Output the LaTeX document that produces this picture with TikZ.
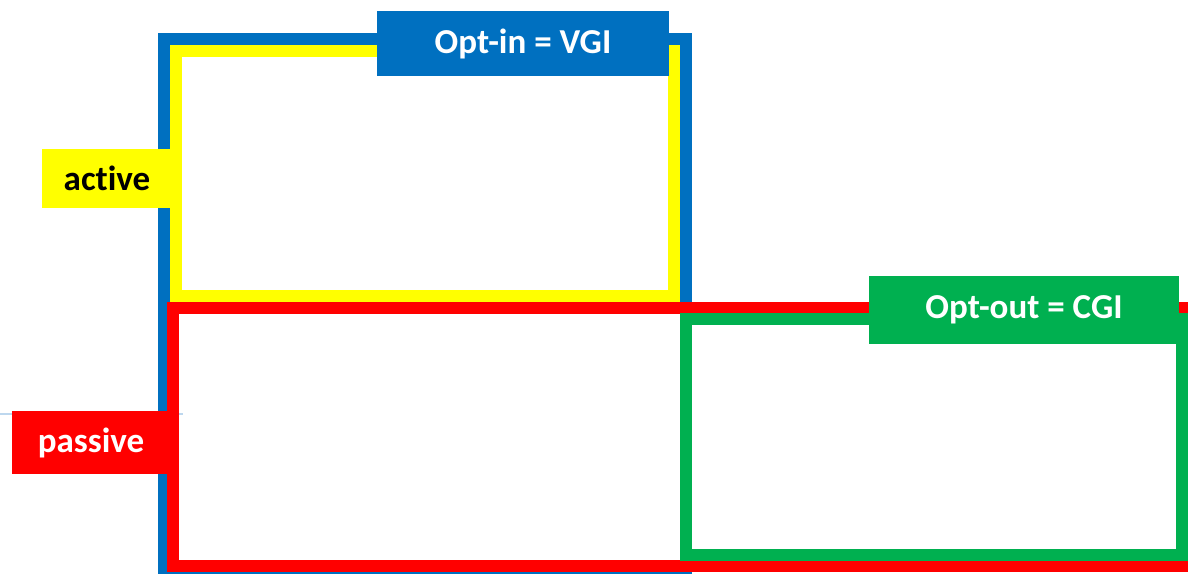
\documentclass[tikz,border=0pt]{standalone}
\usepackage{fontspec}
\setmainfont{Carlito}[Ligatures={NoCommon}]
\definecolor{optinblue}{HTML}{0070C0}
\definecolor{activeyellow}{HTML}{FFFF00}
\definecolor{passivered}{HTML}{FF0000}
\definecolor{optoutgreen}{HTML}{00B050}
\definecolor{guideblue}{HTML}{BDD7EE}

\begin{document}
\begin{tikzpicture}[x=1pt, y=-1pt, line width=12pt,
    every node/.style={font=\fontsize{35}{40}\selectfont\bfseries, inner sep=0pt}]
    \useasboundingbox (0,0) rectangle (1188,573);
    \clip (0,0) rectangle (1188,573);
    % faint guide line at the left
    \draw[line width=1.5pt, guideblue] (0,414) -- (183,414);
    % Opt-in frame
    \draw[optinblue] (164,39) rectangle (686,569);
    % active frame inside Opt-in
    \draw[activeyellow] (176,51) rectangle (674,296);
    % passive frame, runs off the right edge
    \draw[passivered] (173,308) rectangle (1200,566);
    % Opt-out frame
    \draw[optoutgreen] (686,319) rectangle (1182,555);
    % labels on the frames
    \node[fill=optinblue, text=white, minimum width=292pt, minimum height=65pt] (optin) at (523,43.5) {Opt-in = VGI};
    \node[fill=optoutgreen, text=white, minimum width=310pt, minimum height=68pt] (optout) at (1024,310) {Opt-out = CGI};
    \node[fill=activeyellow, text=black, minimum width=130pt, minimum height=59pt] (active) at (107,178.5) {active};
    \node[fill=passivered, text=white, minimum width=158pt, minimum height=63pt] (passive) at (91,442.5) {passive};
\end{tikzpicture}
\end{document}
